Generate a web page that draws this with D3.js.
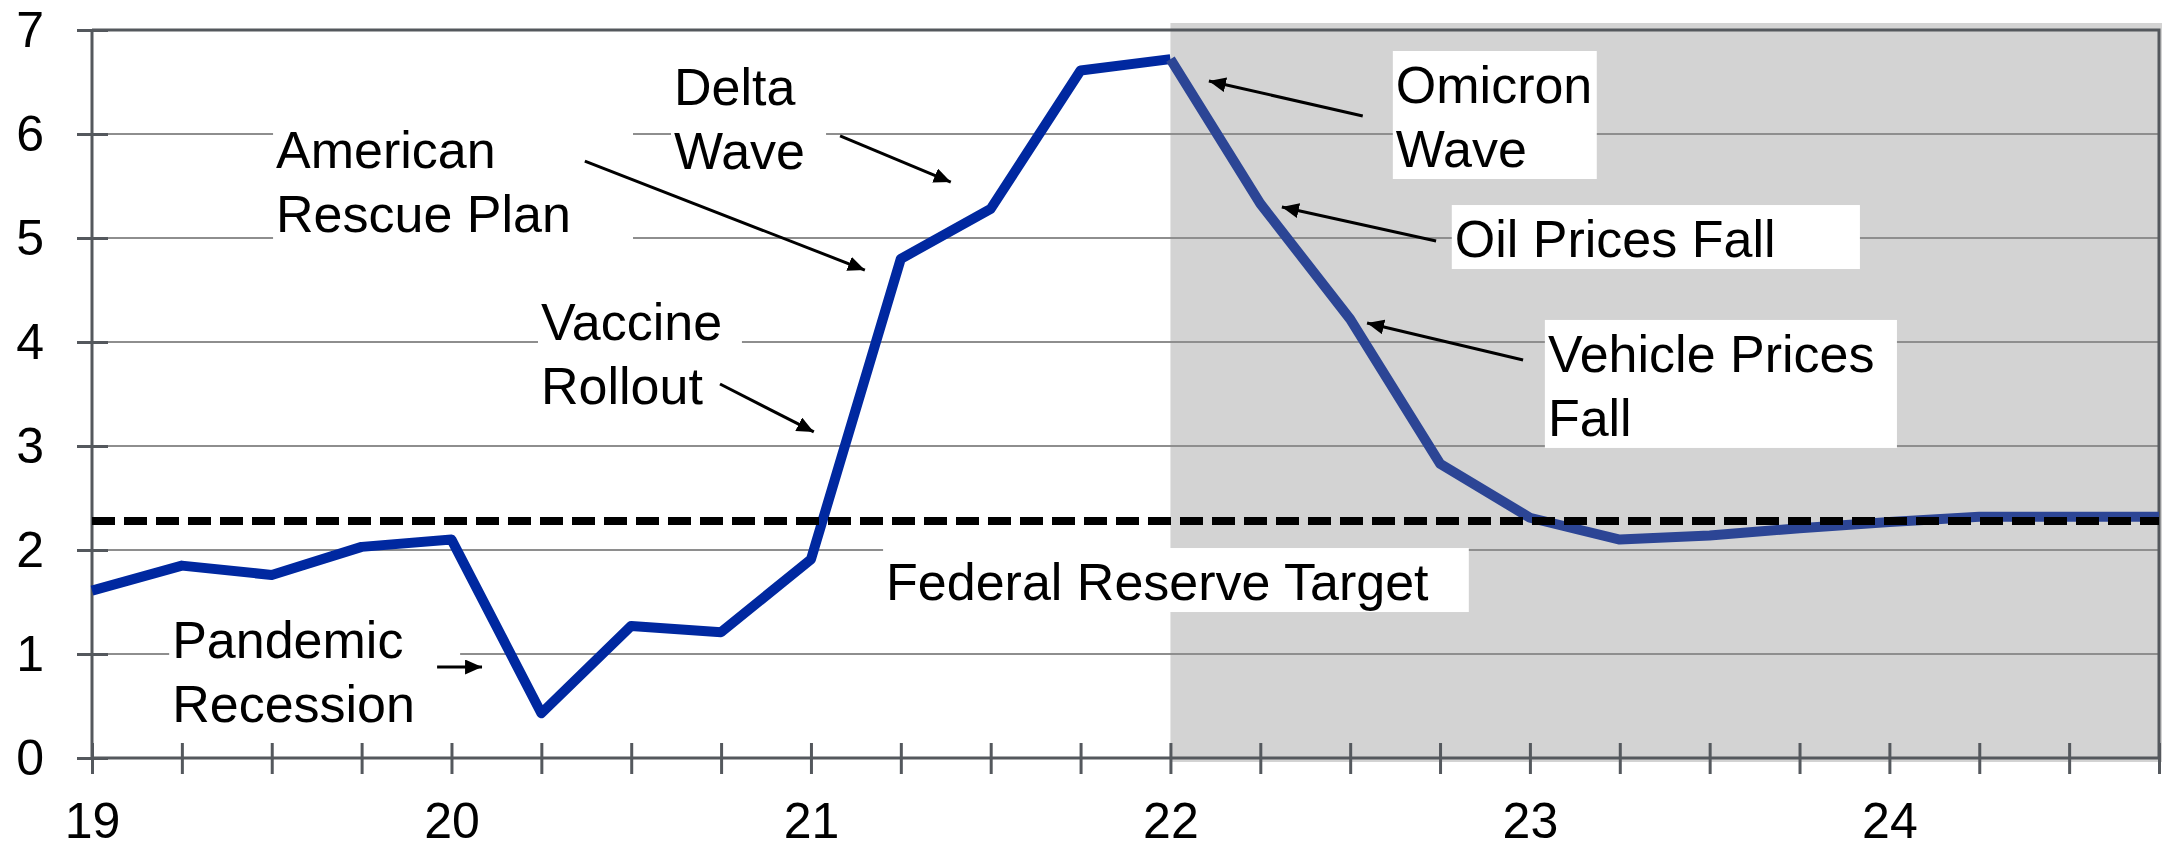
<!DOCTYPE html>
<html>
<head>
<meta charset="utf-8">
<script src="https://cdn.jsdelivr.net/npm/d3@7"></script>
<style>
  body { margin: 0; background: #fff; }
  svg text { font-family: "Liberation Sans", Arial, sans-serif; fill: #000; }
  .note { font-size: 52px; }
  .axis text { font-size: 50px; }
</style>
</head>
<body>
<div class="chart"></div>
<script>
// quarterly observations, 2019Q1 .. 2024Q4
const quarters = d3.range(0, 24).map(i => 2019 + i / 4)
const inflation = [1.61, 1.85, 1.76, 2.03, 2.10, 0.43, 1.27, 1.21,
                   1.91, 4.80, 5.28, 6.61, 6.72, 5.33, 4.22, 2.83,
                   2.31, 2.10, 2.14, 2.21, 2.27, 2.32, 2.32, 2.32]
const yTicks = [0, 1, 2, 3, 4, 5, 6, 7]
const yearTicks = [2019, 2020, 2021, 2022, 2023, 2024]
const yearLabels = ["19", "20", "21", "22", "23", "24"]
const fedTarget = 2.28
const shadeStart = 2022

// annotations, placed in data units (year, value)
const notes = [
  { lines: ["American", "Rescue Plan"], x: 2019.512, y: 5.673, right: 2020.505 },
  { lines: ["Delta", "Wave"], x: 2020.619, y: 6.279, right: 2021.042 },
  { lines: ["Vaccine", "Rollout"], x: 2020.249, y: 4.019, right: 2020.808 },
  { lines: ["Pandemic", "Recession"], x: 2019.223, y: 0.962, right: 2020.024 },
  { lines: ["Federal Reserve Target"], x: 2021.209, y: 1.519, right: 2022.830 },
  { lines: ["Omicron", "Wave"], x: 2022.627, y: 6.298, right: 2023.186 },
  { lines: ["Oil Prices Fall"], x: 2022.791, y: 4.817, right: 2023.918 },
  { lines: ["Vehicle Prices", "Fall"], x: 2023.050, y: 3.712, right: 2024.021 }
]
const arrows = [
  { from: [2021.081, 5.981], to: [2021.389, 5.538] },
  { from: [2020.371, 5.740], to: [2021.150, 4.692] },
  { from: [2020.747, 3.596], to: [2021.008, 3.135] },
  { from: [2019.960, 0.875], to: [2020.085, 0.875] },
  { from: [2022.535, 6.173], to: [2022.107, 6.510] },
  { from: [2022.739, 4.971], to: [2022.310, 5.298] },
  { from: [2022.981, 3.827], to: [2022.547, 4.183] }
]

const w = 2162, h = 844
const lineH = 64

const svg = d3.select(".chart")
  .append("svg")
  .attr("width", w)
  .attr("height", h)

const x = d3.scaleLinear()
  .domain([2019, 2024.75])
  .range([92, 2159])

const y = d3.scaleLinear()
  .domain([0, 7])
  .range([758, 30])

svg.append("defs")
  .append("marker")
  .attr("id", "head")
  .attr("viewBox", "0 0 10 10")
  .attr("preserveAspectRatio", "none")
  .attr("refX", 10)
  .attr("refY", 5)
  .attr("markerUnits", "userSpaceOnUse")
  .attr("markerWidth", 17)
  .attr("markerHeight", 15)
  .attr("orient", "auto")
  .append("path")
  .attr("d", "M0,0 L10,5 L0,10 z")
  .attr("fill", "#000")

// shaded forecast period
svg.append("rect")
  .attr("x", x(shadeStart))
  .attr("y", y(7) - 7)
  .attr("width", w - x(shadeStart))
  .attr("height", y(0) - y(7) + 11)
  .attr("fill", "#d3d3d3")

// gridlines
svg.append("g")
  .selectAll("line")
  .data(yTicks.filter(d => d > 0 && d < 7))
  .join("line")
  .attr("x1", x.range()[0])
  .attr("x2", x.range()[1])
  .attr("y1", d => y(d))
  .attr("y2", d => y(d))
  .attr("stroke", "#8e8e8e")
  .attr("stroke-width", 2)

// frame top and right
svg.append("path")
  .attr("d", `M${x.range()[0]},${y(7)} H${x.range()[1]} V${y(0)}`)
  .attr("fill", "none")
  .attr("stroke", "#54585d")
  .attr("stroke-width", 3)

// white label boxes
const noteG = svg.append("g")
notes.forEach(n => {
  const top = y(n.y) - 52
  const bottom = y(n.y) + (n.lines.length - 1) * lineH + 12
  noteG.append("rect")
    .attr("x", x(n.x) - 3)
    .attr("y", top)
    .attr("width", x(n.right) - x(n.x) + 3)
    .attr("height", bottom - top)
    .attr("fill", "#fff")
})

// axes, ticks cross the axis line
const yAxis = svg.append("g")
  .attr("class", "axis")
  .attr("transform", `translate(${x.range()[0]},0)`)
  .call(d3.axisLeft(y).tickValues(yTicks).tickSize(15).tickPadding(33).tickFormat(d3.format("d")))
svg.append("g")
  .attr("transform", `translate(${x.range()[0]},0)`)
  .call(d3.axisRight(y).tickValues(yTicks).tickSize(16).tickFormat(""))
  .call(g => g.select(".domain").remove())

const xAxis = svg.append("g")
  .attr("class", "axis")
  .attr("transform", `translate(0,${y(0)})`)
  .call(d3.axisBottom(x).tickValues(quarters).tickSize(16).tickPadding(28)
    .tickFormat(d => {
      const i = yearTicks.indexOf(d)
      return i >= 0 ? yearLabels[i] : ""
    }))
svg.append("g")
  .attr("transform", `translate(0,${y(0)})`)
  .call(d3.axisTop(x).tickValues(quarters).tickSize(15).tickFormat(""))
  .call(g => g.select(".domain").remove())

svg.selectAll(".tick line, .domain")
  .attr("stroke", "#54585d")
  .attr("stroke-width", 3)
yAxis.select(".domain").attr("d", `M0,${y(7)}V${y(0)}`)
xAxis.select(".domain").attr("d", `M${x.range()[0]},0H${x.range()[1]}`)

// inflation line, split at the shaded period
const series = quarters.map((q, i) => ({ q, v: inflation[i] }))
const line = d3.line().x(d => x(d.q)).y(d => y(d.v))

svg.append("path")
  .datum(series.filter(d => d.q <= shadeStart))
  .attr("d", line)
  .attr("fill", "none")
  .attr("stroke", "#0028a0")
  .attr("stroke-width", 10)
  .attr("stroke-linejoin", "round")

svg.append("path")
  .datum(series.filter(d => d.q >= shadeStart))
  .attr("d", line)
  .attr("fill", "none")
  .attr("stroke", "#2c4595")
  .attr("stroke-width", 10)
  .attr("stroke-linejoin", "round")

// Fed target
svg.append("line")
  .attr("x1", x.range()[0])
  .attr("x2", x.range()[1])
  .attr("y1", y(fedTarget))
  .attr("y2", y(fedTarget))
  .attr("stroke", "#000")
  .attr("stroke-width", 8)
  .attr("stroke-dasharray", "23,9")

// annotation texts
notes.forEach(n => {
  const t = noteG.append("text")
    .attr("class", "note")
    .attr("x", x(n.x))
    .attr("y", y(n.y))
  n.lines.forEach((s, i) => {
    t.append("tspan")
      .attr("x", x(n.x))
      .attr("dy", i === 0 ? 0 : lineH)
      .text(s)
  })
})
noteG.raise()

// arrows
svg.append("g")
  .selectAll("line")
  .data(arrows)
  .join("line")
  .attr("x1", d => x(d.from[0]))
  .attr("y1", d => y(d.from[1]))
  .attr("x2", d => x(d.to[0]))
  .attr("y2", d => y(d.to[1]))
  .attr("stroke", "#000")
  .attr("stroke-width", 3)
  .attr("marker-end", "url(#head)")
</script>
</body>
</html>
